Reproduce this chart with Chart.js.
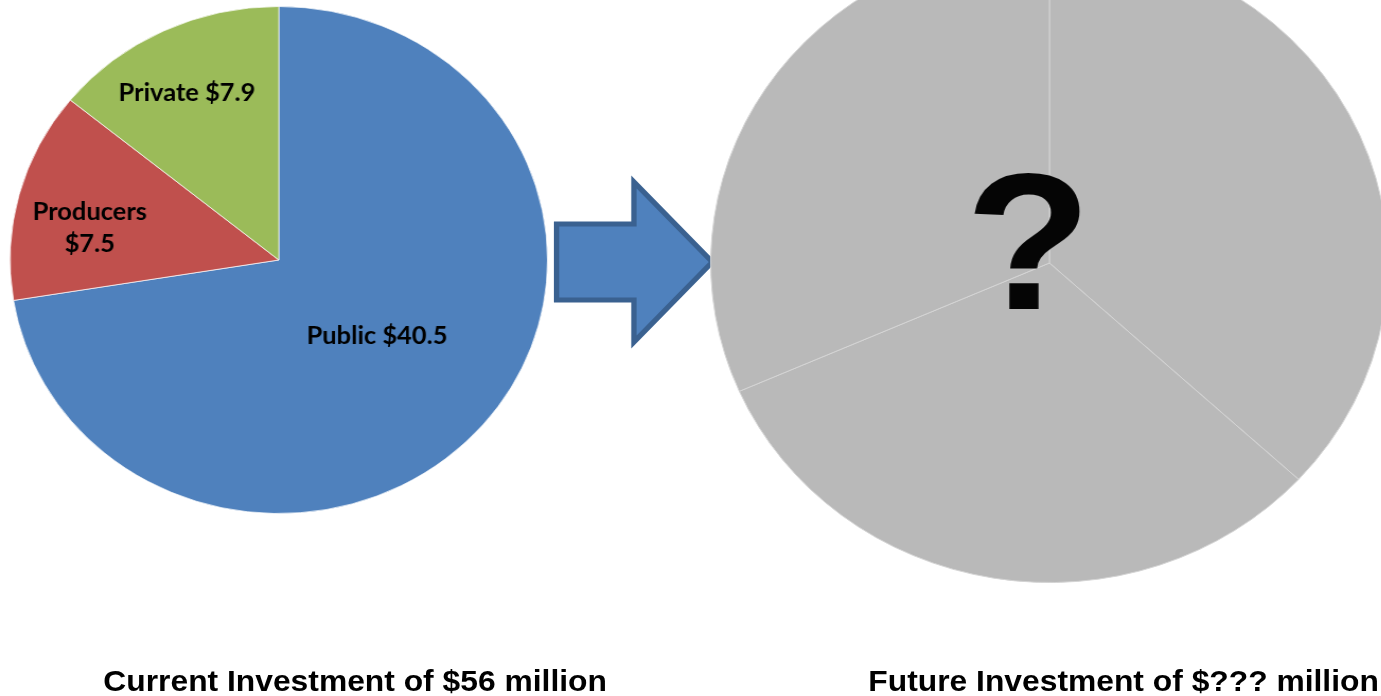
<!DOCTYPE html>
<html>
<head>
<meta charset="utf-8">
<script src="https://cdn.jsdelivr.net/npm/chart.js@4/dist/chart.umd.min.js"></script>
<style>
  html, body { margin: 0; padding: 0; background: #fff; overflow: hidden; }
  /* the reference is stretched a bit wider than tall, so the whole page is drawn in a narrower box and scaled */
  #page { position: absolute; left: 0; top: 0; width: 1303px; height: 696px; transform: scaleX(1.06); transform-origin: 0 0; }
  .pie { position: absolute; }
  .title { position: absolute; top: 664px; width: 600px; text-align: center; font: bold 30px "Liberation Sans", Arial, sans-serif; color: #000; }
</style>
</head>
<body>
<div id="page">
  <canvas id="nowChart" class="pie" width="508" height="508" style="left:9px;top:5.5px"></canvas>
  <svg style="position:absolute;left:515px;top:170px" width="170" height="185">
    <polygon points="10,54 83,54 83,12 157,92 83,172 83,130 10,130" fill="#4F81BD" stroke="#3A6190" stroke-width="5" stroke-linejoin="miter"/>
  </svg>
  <canvas id="futureChart" class="pie" width="640" height="640" style="left:669.6px;top:-57px"></canvas>
  <div class="title" style="left:35px">Current Investment of $56 million</div>
  <div class="title" style="left:760px">Future Investment of $??? million</div>
</div>
<script>
'use strict';

// current split, $ millions
var nowLabels = ['Public', 'Producers', 'Private'];
var nowValues = [40.5, 7.5, 7.9];
var nowColors = ['#4F81BD', '#C0504D', '#9BBB59'];
// text lines per slice
var nowText = [['Public $40.5'], ['Producers', '$7.5'], ['Private $7.9']];

// future split is unknown, three grey wedges
var futureLabels = ['A', 'B', 'C'];
var futureValues = [7, 6, 6];

var sliceLabels = {
  id: 'sliceLabels',
  afterDatasetsDraw: function(chart, args, opts) {
    if (!opts.text) return;
    var ctx = chart.ctx;
    var arcs = chart.getDatasetMeta(0).data;
    ctx.save();
    ctx.fillStyle = '#000';
    ctx.font = 'bold 24px Lato, "Open Sans", sans-serif';
    ctx.textAlign = 'center';
    ctx.textBaseline = 'middle';
    for (var i = 0; i < arcs.length; i++) {
      var a = arcs[i];
      var mid = (a.startAngle + a.endAngle) / 2;
      var r = a.outerRadius * opts.radius[i];
      var x = a.x + Math.cos(mid) * r + opts.nudge[i][0];
      var y = a.y + Math.sin(mid) * r + opts.nudge[i][1];
      var lines = opts.text[i];
      var lh = 32;
      for (var j = 0; j < lines.length; j++) {
        ctx.fillText(lines[j], x, y + (j - (lines.length - 1) / 2) * lh);
      }
    }
    ctx.restore();
  }
};

var bigQuestion = {
  id: 'bigQuestion',
  afterDatasetsDraw: function(chart) {
    var a = chart.getDatasetMeta(0).data[0];
    var ctx = chart.ctx;
    ctx.save();
    ctx.fillStyle = '#050505';
    ctx.font = 'bold 195px "Liberation Sans", Arial, sans-serif';
    ctx.textAlign = 'center';
    ctx.textBaseline = 'alphabetic';
    ctx.fillText('?', a.x - 20, a.y + 46);
    ctx.restore();
  }
};

var nowChart = new Chart(document.getElementById('nowChart'), {
  type: 'pie',
  data: {
    labels: nowLabels,
    datasets: [{
      data: nowValues,
      backgroundColor: nowColors,
      borderColor: 'rgba(255,255,255,0.7)',
      borderWidth: 1
    }]
  },
  options: {
    responsive: false,
    animation: false,
    layout: { padding: 0 },
    plugins: {
      legend: { display: false },
      tooltip: { enabled: false },
      sliceLabels: {
        text: nowText,
        radius: [0.48, 0.72, 0.75],
        nudge: [[0, -3], [-2, 15], [-5, 5]]
      }
    }
  },
  plugins: [sliceLabels]
});

var futureChart = new Chart(document.getElementById('futureChart'), {
  type: 'pie',
  data: {
    labels: futureLabels,
    datasets: [{
      data: futureValues,
      backgroundColor: '#B9B9B9',
      borderColor: '#D4D4D4',
      borderWidth: 1
    }]
  },
  options: {
    responsive: false,
    animation: false,
    layout: { padding: 0 },
    plugins: {
      legend: { display: false },
      tooltip: { enabled: false }
    }
  },
  plugins: [bigQuestion]
});
</script>
</body>
</html>
